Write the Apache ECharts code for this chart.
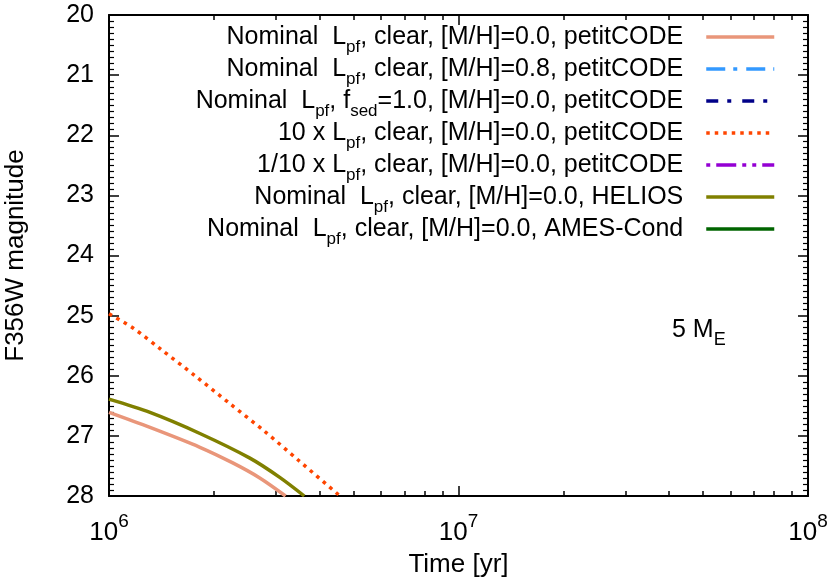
<!doctype html>
<html>
<head>
<meta charset="utf-8">
<title>F356W magnitude</title>
<script src="https://cdn.jsdelivr.net/npm/echarts@6/dist/echarts.min.js"></script>
<style>
  html, body { margin: 0; padding: 0; background: #fff; }
  #main { width: 830px; height: 583px; }
</style>
</head>
<body>
<div id="main"></div>
<script>
// series names and legend labels
var seriesNames = ['s1', 's2', 's3', 's4', 's5', 's6', 's7'];
var legendLabels = [
  '{n|Nominal  L}{s|pf}{n|, clear, [M/H]=0.0, petitCODE}',
  '{n|Nominal  L}{s|pf}{n|, clear, [M/H]=0.8, petitCODE}',
  '{n|Nominal  L}{s|pf}{n|, f}{s|sed}{n|=1.0, [M/H]=0.0, petitCODE}',
  '{n|10 x L}{s|pf}{n|, clear, [M/H]=0.0, petitCODE}',
  '{n|1/10 x L}{s|pf}{n|, clear, [M/H]=0.0, petitCODE}',
  '{n|Nominal  L}{s|pf}{n|, clear, [M/H]=0.0, HELIOS}',
  '{n|Nominal  L}{s|pf}{n|, clear, [M/H]=0.0, AMES-Cond}'
];
var colors = ['#e9967a', '#3399ff', '#000088', '#ff4500', '#9400d3', '#808000', '#006400'];
var dashes = ['solid', [19, 8, 4, 9], [12, 9, 4, 11], [3.5, 5], [4, 6, 20, 6, 4, 6], 'solid', 'solid'];

// data [time yr, magnitude]
var nominalPetit = [[1.0e6, 26.61], [1.31e6, 26.86], [1.82e6, 27.19], [2.26e6, 27.45], [2.70e6, 27.70], [3.2e6, 28.0]];
var metalRich = [];
var cloudy = [];
var tenTimes = [[1.0e6, 24.97], [1.174e6, 25.21], [1.415e6, 25.57], [1.762e6, 26.0], [2.224e6, 26.47], [2.782e6, 26.92], [3.49e6, 27.41], [4.58e6, 28.0]];
var tenthTimes = [];
var helios = [[1.0e6, 26.39], [1.31e6, 26.61], [1.82e6, 26.96], [2.53e6, 27.37], [3.08e6, 27.69], [3.62e6, 28.0]];
var amesCond = [];
var allData = [nominalPetit, metalRich, cloudy, tenTimes, tenthTimes, helios, amesCond];

var yTicks = [20, 28];
var xDecades = [6, 8];
// minor tick positions on the log axis (log10 of 2..9 x 10^n)
var minorX = [];
for (var d = 6; d < 8; d++) {
  for (var m = 2; m <= 9; m++) minorX.push(d + Math.log10(m));
}

var font = 'Liberation Sans, Arial, Helvetica, sans-serif';
var fs = 25;

var chart = echarts.init(document.getElementById('main'));

var series = seriesNames.map(function (n, i) {
  return {
    name: n,
    type: 'line',
    showSymbol: false,
    symbol: 'none',
    smooth: 0.3,
    data: allData[i],
    lineStyle: { color: colors[i], width: 3.5, type: dashes[i], cap: 'butt' },
    itemStyle: { color: colors[i] }
  };
});

function logAxis(pos, labels) {
  return {
    type: 'log', logBase: 10, min: Math.pow(10, xDecades[0]), max: Math.pow(10, xDecades[1]),
    position: pos,
    axisLine: { show: true, onZero: false, lineStyle: { color: '#000', width: 2 } },
    axisTick: { show: true, inside: true, length: 10, lineStyle: { color: '#000', width: 1.5 } },
    splitLine: { show: false },
    minorTick: { show: false },
    axisLabel: labels ? {
      show: true, margin: 16, fontFamily: font, color: '#000',
      formatter: function (v) {
        return '{b|10}{p|' + Math.round(Math.log10(v)) + '}';
      },
      rich: {
        b: { fontSize: 26, fontFamily: font, color: '#000', verticalAlign: 'bottom', lineHeight: 34 },
        p: { fontSize: 19, fontFamily: font, color: '#000', verticalAlign: 'top', lineHeight: 34, padding: [0, 0, 14, 0] }
      }
    } : { show: false },
    name: labels ? 'Time [yr]' : '',
    nameLocation: 'middle',
    nameGap: 56,
    nameTextStyle: { fontSize: 26, fontFamily: font, color: '#000', verticalAlign: 'top' }
  };
}

function minorAxis(pos) {
  return {
    type: 'value', min: xDecades[0], max: xDecades[1], position: pos,
    axisLine: { show: false },
    axisLabel: { show: false },
    splitLine: { show: false },
    axisTick: { show: true, inside: true, length: 5, customValues: minorX, lineStyle: { color: '#000', width: 1.5 } }
  };
}

function magAxis(pos, labels) {
  return {
    type: 'value', inverse: true, min: yTicks[0], max: yTicks[1], interval: 1,
    position: pos,
    axisLine: { show: true, onZero: false, lineStyle: { color: '#000', width: 2 } },
    axisTick: { show: true, inside: true, length: 10, lineStyle: { color: '#000', width: 1.5 } },
    minorTick: { show: true, splitNumber: 10, length: 5, lineStyle: { color: '#000', width: 1.2 } },
    splitLine: { show: false },
    axisLabel: { show: labels, margin: 15, fontSize: 25, fontFamily: font, color: '#000' },
    name: labels ? 'F356W magnitude' : '',
    nameLocation: 'middle',
    nameGap: 80,
    nameTextStyle: { fontSize: 26, fontFamily: font, color: '#000' }
  };
}

chart.setOption({
  backgroundColor: '#fff',
  animation: false,
  grid: { left: 109, right: 22, top: 15, bottom: 87, containLabel: false, outerBoundsMode: 'none' },
  xAxis: [logAxis('bottom', true), logAxis('top', false), minorAxis('bottom'), minorAxis('top')],
  yAxis: [magAxis('left', true), magAxis('right', false)],
  legend: {
    data: seriesNames,
    orient: 'vertical',
    right: 54,
    top: 25,
    padding: 0,
    align: 'right',
    itemWidth: 68,
    itemHeight: 14,
    itemGap: 1,
    selectedMode: false,
    itemStyle: { opacity: 0 },
    lineStyle: { width: 3.5 },
    formatter: function (name) {
      return legendLabels[seriesNames.indexOf(name)];
    },
    textStyle: {
      fontFamily: font, color: '#000', padding: [0, 18, 0, 0],
      rich: {
        n: { fontSize: fs, fontFamily: font, color: '#000', lineHeight: 26, verticalAlign: 'bottom' },
        s: { fontSize: 17, fontFamily: font, color: '#000', lineHeight: 26, verticalAlign: 'bottom', padding: [0, 0, -6, 0] }
      }
    }
  },
  graphic: [{
    type: 'text', left: 672, top: 318,
    style: {
      text: '{n|5 M}{s|E}',
      rich: {
        n: { fontSize: fs, fontFamily: font, fill: '#000', lineHeight: 28, verticalAlign: 'bottom' },
        s: { fontSize: 18, fontFamily: font, fill: '#000', lineHeight: 28, verticalAlign: 'bottom', padding: [0, 0, -6, 0] }
      }
    }
  }],
  series: series
});
</script>
</body>
</html>
